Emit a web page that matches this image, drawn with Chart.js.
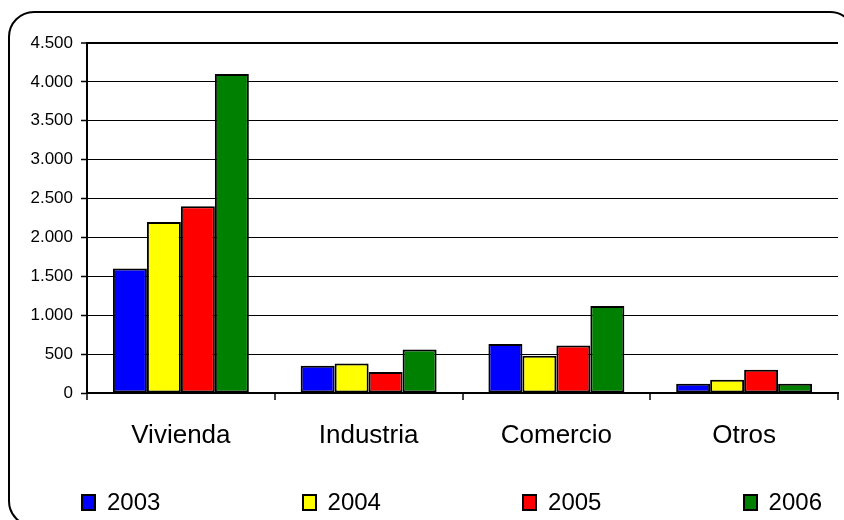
<!DOCTYPE html>
<html>
<head>
<meta charset="utf-8">
<script src="https://cdn.jsdelivr.net/npm/chart.js@4/dist/chart.umd.min.js"></script>
<style>
    html, body { margin: 0; padding: 0; background: #fff; }
    body { width: 844px; height: 520px; overflow: hidden; position: relative; font-family: "Liberation Sans", Arial, sans-serif; }
    .frame {
        position: absolute; left: 8px; top: 11px; width: 848px; height: 516px;
        box-sizing: border-box; border: 2px solid #000; border-radius: 26px;
    }
    #chart { position: absolute; left: 0; top: 0; }
    .legend {
        position: absolute; left: 81px; right: 22px; top: 490px;
        display: flex; justify-content: space-between; align-items: center;
    }
    .legend .item { display: flex; align-items: center; font-size: 24px; color: #000; line-height: 24px; }
    .legend .box { width: 11px; height: 13px; border: 2px solid #000; margin-right: 11px; }
</style>
</head>
<body>
<div class="frame"></div>
<canvas id="chart" width="844" height="520"></canvas>
<div class="legend" id="legend"></div>

<script>
// Obras por destino, 2003-2006
const categories = ['Vivienda', 'Industria', 'Comercio', 'Otros'];
const years = ['2003', '2004', '2005', '2006'];
const values2003 = [1600, 350, 630, 120];
const values2004 = [2200, 380, 480, 170];
const values2005 = [2400, 270, 610, 300];
const values2006 = [4100, 560, 1120, 120];
const colors = ['#0000FF', '#FFFF00', '#FF0000', '#008000'];

const yMin = 0;
const yMax = 4500;
const yStep = 500;

// 4500 -> "4.500"
function formatThousands(v) {
    return String(v).replace(/\B(?=(\d{3})+(?!\d))/g, '.');
}

const seriesValues = [values2003, values2004, values2005, values2006];

const datasets = years.map((year, i) => ({
    label: year,
    data: seriesValues[i],
    backgroundColor: colors[i],
    borderColor: '#000',
    borderWidth: 2,
    borderSkipped: false,
    categoryPercentage: 0.724,
    barPercentage: 1.0
}));

new Chart(document.getElementById('chart'), {
    type: 'bar',
    data: { labels: categories, datasets: datasets },
    options: {
        responsive: false,
        animation: false,
        layout: { padding: { top: 43, right: 6, bottom: 77, left: 0 } },
        plugins: {
            legend: { display: false },
            tooltip: { enabled: false }
        },
        scales: {
            x: {
                afterFit: (axis) => { axis.height = 50; },
                grid: {
                    offset: true,
                    color: (ctx) => ctx.index === categories.length ? '#000' : 'rgba(0,0,0,0)',
                    lineWidth: 2,
                    tickColor: '#000',
                    tickWidth: 1.5,
                    tickLength: 7
                },
                border: { display: true, color: '#000', width: 2 },
                ticks: {
                    color: '#000',
                    padding: 20,
                    font: { family: '"Liberation Sans", Arial, sans-serif', size: 26 }
                }
            },
            y: {
                min: yMin,
                max: yMax,
                afterFit: (axis) => { axis.width = 87; },
                grid: {
                    color: '#000',
                    lineWidth: (ctx) => ctx.tick && ctx.tick.value === yMax ? 2 : 1,
                    tickColor: '#000',
                    tickWidth: 1.5,
                    tickLength: 6
                },
                border: { display: true, color: '#000', width: 2 },
                ticks: {
                    stepSize: yStep,
                    color: '#000',
                    padding: 8,
                    font: { family: '"Liberation Sans", Arial, sans-serif', size: 17 },
                    callback: (v) => formatThousands(v)
                }
            }
        }
    }
});

// legend built from the same series
document.getElementById('legend').innerHTML = years.map((year, i) => `
    <div class="item"><span class="box" style="background:${colors[i]}"></span>${year}</div>
`).join('');
</script>
</body>
</html>
